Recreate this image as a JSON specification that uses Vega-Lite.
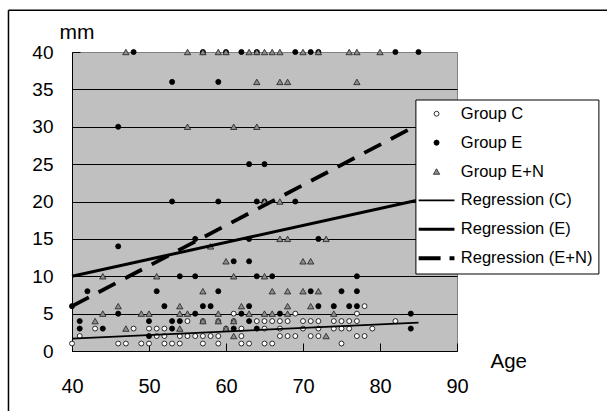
{
  "$schema": "https://vega.github.io/schema/vega-lite/v6.json",
  "width": 385,
  "height": 299,
  "autosize": {"type": "none"},
  "padding": {"left": 72, "top": 52, "right": 150, "bottom": 60},
  "background": "white",
  "config": {
    "view": {"fill": "#c0c0c0", "stroke": "#808080", "strokeWidth": 1},
    "font": "Liberation Sans",
    "legend": {
      "orient": "none", "legendX": 343.4, "legendY": 47.5, "padding": 6,
      "fillColor": "white", "strokeColor": "black", "strokeWidth": 1,
      "labelFont": "Liberation Sans", "labelFontSize": 16.5, "labelColor": "black",
      "symbolOffset": 6.9, "labelOffset": 16, "rowPadding": 11.9
    }
  },
  "datasets": {
    "pts": [
      {"age":40,"mm":1,"group":"Group C"},{"age":46,"mm":1,"group":"Group C"},{"age":47,"mm":1,"group":"Group C"},{"age":49,"mm":1,"group":"Group C"},{"age":50,"mm":1,"group":"Group C"},{"age":52,"mm":1,"group":"Group C"},{"age":53,"mm":1,"group":"Group C"},{"age":54,"mm":1,"group":"Group C"},{"age":57,"mm":1,"group":"Group C"},{"age":59,"mm":1,"group":"Group C"},{"age":62,"mm":1,"group":"Group C"},{"age":63,"mm":1,"group":"Group C"},{"age":65,"mm":1,"group":"Group C"},{"age":66,"mm":1,"group":"Group C"},{"age":75,"mm":1,"group":"Group C"},
      {"age":41,"mm":2,"group":"Group C"},{"age":51,"mm":2,"group":"Group C"},{"age":52,"mm":2,"group":"Group C"},{"age":54,"mm":2,"group":"Group C"},{"age":55,"mm":2,"group":"Group C"},{"age":56,"mm":2,"group":"Group C"},{"age":57,"mm":2,"group":"Group C"},{"age":58,"mm":2,"group":"Group C"},{"age":59,"mm":2,"group":"Group C"},{"age":62,"mm":2,"group":"Group C"},{"age":67,"mm":2,"group":"Group C"},{"age":68,"mm":2,"group":"Group C"},{"age":69,"mm":2,"group":"Group C"},{"age":71,"mm":2,"group":"Group C"},{"age":72,"mm":2,"group":"Group C"},{"age":77,"mm":2,"group":"Group C"},{"age":78,"mm":2,"group":"Group C"},
      {"age":43,"mm":3,"group":"Group C"},{"age":48,"mm":3,"group":"Group C"},{"age":50,"mm":3,"group":"Group C"},{"age":51,"mm":3,"group":"Group C"},{"age":52,"mm":3,"group":"Group C"},{"age":60,"mm":3,"group":"Group C"},{"age":62,"mm":3,"group":"Group C"},{"age":65,"mm":3,"group":"Group C"},{"age":67,"mm":3,"group":"Group C"},{"age":70,"mm":3,"group":"Group C"},{"age":72,"mm":3,"group":"Group C"},{"age":74,"mm":3,"group":"Group C"},{"age":75,"mm":3,"group":"Group C"},{"age":76,"mm":3,"group":"Group C"},{"age":79,"mm":3,"group":"Group C"},
      {"age":55,"mm":4,"group":"Group C"},{"age":57,"mm":4,"group":"Group C"},{"age":59,"mm":4,"group":"Group C"},{"age":61,"mm":4,"group":"Group C"},{"age":64,"mm":4,"group":"Group C"},{"age":65,"mm":4,"group":"Group C"},{"age":66,"mm":4,"group":"Group C"},{"age":67,"mm":4,"group":"Group C"},{"age":68,"mm":4,"group":"Group C"},{"age":70,"mm":4,"group":"Group C"},{"age":71,"mm":4,"group":"Group C"},{"age":72,"mm":4,"group":"Group C"},{"age":74,"mm":4,"group":"Group C"},{"age":75,"mm":4,"group":"Group C"},{"age":76,"mm":4,"group":"Group C"},{"age":77,"mm":4,"group":"Group C"},{"age":82,"mm":4,"group":"Group C"},
      {"age":61,"mm":5,"group":"Group C"},{"age":69,"mm":5,"group":"Group C"},{"age":77,"mm":5,"group":"Group C"},{"age":78,"mm":6,"group":"Group C"},
      {"age":48,"mm":40,"group":"Group E"},{"age":57,"mm":40,"group":"Group E"},{"age":60,"mm":40,"group":"Group E"},{"age":62,"mm":40,"group":"Group E"},{"age":64,"mm":40,"group":"Group E"},{"age":69,"mm":40,"group":"Group E"},{"age":71,"mm":40,"group":"Group E"},{"age":72,"mm":40,"group":"Group E"},{"age":82,"mm":40,"group":"Group E"},{"age":85,"mm":40,"group":"Group E"},
      {"age":53,"mm":36,"group":"Group E"},{"age":59,"mm":36,"group":"Group E"},{"age":46,"mm":30,"group":"Group E"},{"age":63,"mm":25,"group":"Group E"},{"age":65,"mm":25,"group":"Group E"},
      {"age":53,"mm":20,"group":"Group E"},{"age":59,"mm":20,"group":"Group E"},{"age":64,"mm":20,"group":"Group E"},{"age":65,"mm":20,"group":"Group E"},{"age":69,"mm":20,"group":"Group E"},
      {"age":56,"mm":15,"group":"Group E"},{"age":63,"mm":15,"group":"Group E"},{"age":72,"mm":15,"group":"Group E"},{"age":46,"mm":14,"group":"Group E"},{"age":61,"mm":12,"group":"Group E"},{"age":63,"mm":12,"group":"Group E"},
      {"age":54,"mm":10,"group":"Group E"},{"age":56,"mm":10,"group":"Group E"},{"age":64,"mm":10,"group":"Group E"},{"age":66,"mm":10,"group":"Group E"},{"age":77,"mm":10,"group":"Group E"},
      {"age":42,"mm":8,"group":"Group E"},{"age":51,"mm":8,"group":"Group E"},{"age":59,"mm":8,"group":"Group E"},{"age":71,"mm":8,"group":"Group E"},{"age":75,"mm":8,"group":"Group E"},{"age":77,"mm":8,"group":"Group E"},
      {"age":40,"mm":6,"group":"Group E"},{"age":52,"mm":6,"group":"Group E"},{"age":57,"mm":6,"group":"Group E"},{"age":58,"mm":6,"group":"Group E"},{"age":63,"mm":6,"group":"Group E"},{"age":72,"mm":6,"group":"Group E"},{"age":74,"mm":6,"group":"Group E"},{"age":76,"mm":6,"group":"Group E"},{"age":77,"mm":6,"group":"Group E"},
      {"age":46,"mm":5,"group":"Group E"},{"age":56,"mm":5,"group":"Group E"},{"age":62,"mm":5,"group":"Group E"},{"age":67,"mm":5,"group":"Group E"},{"age":84,"mm":5,"group":"Group E"},
      {"age":41,"mm":4,"group":"Group E"},{"age":50,"mm":4,"group":"Group E"},{"age":53,"mm":4,"group":"Group E"},{"age":54,"mm":4,"group":"Group E"},{"age":63,"mm":4,"group":"Group E"},
      {"age":41,"mm":3,"group":"Group E"},{"age":44,"mm":3,"group":"Group E"},{"age":53,"mm":3,"group":"Group E"},{"age":61,"mm":3,"group":"Group E"},{"age":64,"mm":3,"group":"Group E"},{"age":84,"mm":3,"group":"Group E"},{"age":50,"mm":2,"group":"Group E"},
      {"age":47,"mm":40,"group":"Group E+N"},{"age":55,"mm":40,"group":"Group E+N"},{"age":57,"mm":40,"group":"Group E+N"},{"age":59,"mm":40,"group":"Group E+N"},{"age":60,"mm":40,"group":"Group E+N"},{"age":63,"mm":40,"group":"Group E+N"},{"age":64,"mm":40,"group":"Group E+N"},{"age":65,"mm":40,"group":"Group E+N"},{"age":66,"mm":40,"group":"Group E+N"},{"age":67,"mm":40,"group":"Group E+N"},{"age":70,"mm":40,"group":"Group E+N"},{"age":72,"mm":40,"group":"Group E+N"},{"age":76,"mm":40,"group":"Group E+N"},{"age":77,"mm":40,"group":"Group E+N"},{"age":80,"mm":40,"group":"Group E+N"},
      {"age":64,"mm":36,"group":"Group E+N"},{"age":67,"mm":36,"group":"Group E+N"},{"age":68,"mm":36,"group":"Group E+N"},{"age":77,"mm":36,"group":"Group E+N"},
      {"age":55,"mm":30,"group":"Group E+N"},{"age":61,"mm":30,"group":"Group E+N"},{"age":64,"mm":30,"group":"Group E+N"},{"age":65,"mm":20,"group":"Group E+N"},{"age":67,"mm":20,"group":"Group E+N"},
      {"age":67,"mm":15,"group":"Group E+N"},{"age":68,"mm":15,"group":"Group E+N"},{"age":73,"mm":15,"group":"Group E+N"},{"age":58,"mm":14,"group":"Group E+N"},
      {"age":60,"mm":12,"group":"Group E+N"},{"age":70,"mm":12,"group":"Group E+N"},{"age":71,"mm":12,"group":"Group E+N"},
      {"age":44,"mm":10,"group":"Group E+N"},{"age":51,"mm":10,"group":"Group E+N"},{"age":61,"mm":10,"group":"Group E+N"},{"age":65,"mm":10,"group":"Group E+N"},
      {"age":57,"mm":8,"group":"Group E+N"},{"age":66,"mm":8,"group":"Group E+N"},{"age":68,"mm":8,"group":"Group E+N"},{"age":70,"mm":8,"group":"Group E+N"},{"age":72,"mm":8,"group":"Group E+N"},
      {"age":46,"mm":6,"group":"Group E+N"},{"age":54,"mm":6,"group":"Group E+N"},{"age":62,"mm":6,"group":"Group E+N"},{"age":68,"mm":6,"group":"Group E+N"},{"age":71,"mm":6,"group":"Group E+N"},
      {"age":44,"mm":5,"group":"Group E+N"},{"age":49,"mm":5,"group":"Group E+N"},{"age":50,"mm":5,"group":"Group E+N"},{"age":54,"mm":5,"group":"Group E+N"},{"age":55,"mm":5,"group":"Group E+N"},{"age":59,"mm":5,"group":"Group E+N"},{"age":63,"mm":5,"group":"Group E+N"},{"age":65,"mm":5,"group":"Group E+N"},{"age":66,"mm":5,"group":"Group E+N"},{"age":68,"mm":5,"group":"Group E+N"},{"age":74,"mm":5,"group":"Group E+N"},
      {"age":43,"mm":4,"group":"Group E+N"},{"age":57,"mm":4,"group":"Group E+N"},{"age":59,"mm":4,"group":"Group E+N"},{"age":61,"mm":4,"group":"Group E+N"},
      {"age":47,"mm":3,"group":"Group E+N"},{"age":54,"mm":3,"group":"Group E+N"},{"age":60,"mm":3,"group":"Group E+N"},{"age":61,"mm":2,"group":"Group E+N"},{"age":73,"mm":2,"group":"Group E+N"}
    ],
    "reg": [
      {"age":40,"mm":1.65,"group":"Regression (C)"},{"age":85,"mm":3.8,"group":"Regression (C)"},
      {"age":40,"mm":10,"group":"Regression (E)"},{"age":85,"mm":20.2,"group":"Regression (E)"},
      {"age":40,"mm":6,"group":"Regression (E+N)"},{"age":85,"mm":30.3,"group":"Regression (E+N)"}
    ]
  },
  "layer": [
    {
      "data": {"name": "pts"},
      "mark": {"type": "point", "filled": true, "opacity": 1},
      "encoding": {
        "x": {"field": "age", "type": "quantitative",
          "scale": {"domain": [40, 90], "nice": false, "zero": false},
          "axis": {"values": [40,50,60,70,80,90], "grid": false, "domainColor": "black", "tickColor": "black", "tickSize": -8,
            "labelPadding": 33, "labelFont": "Liberation Sans", "labelFontSize": 20, "labelColor": "black",
            "labelFlush": false, "labelOverlap": false,
            "title": "Age", "titleFont": "Liberation Sans", "titleFontSize": 20.5, "titleFontWeight": "normal", "titleColor": "black",
            "titleX": 418, "titleY": 16, "titleAlign": "left", "titleBaseline": "alphabetic"}},
        "y": {"field": "mm", "type": "quantitative",
          "scale": {"domain": [0, 40], "nice": false},
          "axis": {"values": [0,5,10,15,20,25,30,35,40], "grid": true, "gridWidth": 1,
            "gridColor": {"condition": {"test": "datum.value === 0 || datum.value === 40", "value": "transparent"}, "value": "black"},
            "domainColor": "black", "tickColor": "black", "tickSize": -8, "labelPadding": 27,
            "labelFont": "Liberation Sans", "labelFontSize": 19, "labelColor": "black", "labelFlush": false, "labelOverlap": false,
            "title": "mm", "titleFont": "Liberation Sans", "titleFontSize": 21, "titleFontWeight": "normal", "titleColor": "black",
            "titleAngle": 0, "titleX": 4.5, "titleY": -14, "titleAlign": "center", "titleBaseline": "alphabetic"}},
        "shape": {"field": "group", "type": "nominal", "legend": {"title": null},
          "scale": {"domain": ["Group C","Group E","Group E+N","Regression (C)","Regression (E)","Regression (E+N)"],
            "range": ["circle","circle","triangle-up","M-8,0H8","M-8,0H8","M-8,0H1.8M5.8,0H8"]}},
        "fill": {"field": "group", "type": "nominal", "legend": {"title": null},
          "scale": {"domain": ["Group C","Group E","Group E+N","Regression (C)","Regression (E)","Regression (E+N)"],
            "range": ["white","black","#8c8c8c","transparent","transparent","transparent"]}},
        "stroke": {"field": "group", "type": "nominal", "legend": {"title": null},
          "scale": {"domain": ["Group C","Group E","Group E+N","Regression (C)","Regression (E)","Regression (E+N)"],
            "range": ["black","black","#202020","black","black","black"]}},
        "strokeWidth": {"field": "group", "type": "nominal", "legend": {"title": null},
          "scale": {"type": "ordinal", "domain": ["Group C","Group E","Group E+N","Regression (C)","Regression (E)","Regression (E+N)"],
            "range": [0.8, 0.8, 0.8, 1.7, 3, 3.8]}},
        "size": {"field": "group", "type": "nominal", "legend": {"title": null},
          "scale": {"type": "ordinal", "domain": ["Group C","Group E","Group E+N","Regression (C)","Regression (E)","Regression (E+N)"],
            "range": [24, 26, 40, 20, 20, 20]}}
      }
    },
    {
      "data": {"name": "reg"},
      "transform": [{"filter": "datum.group === 'Regression (C)'"}],
      "mark": {"type": "line", "color": "black", "strokeWidth": 1.7, "strokeCap": "butt"},
      "encoding": {
        "x": {"field": "age", "type": "quantitative",
          "axis": {"values": [40,50,60,70,80,90], "grid": false, "domainColor": "black", "tickColor": "black", "tickSize": -8,
            "labelPadding": 33, "labelFont": "Liberation Sans", "labelFontSize": 20, "labelColor": "black",
            "labelFlush": false, "labelOverlap": false,
            "title": "Age", "titleFont": "Liberation Sans", "titleFontSize": 20.5, "titleFontWeight": "normal", "titleColor": "black",
            "titleX": 418, "titleY": 16, "titleAlign": "left", "titleBaseline": "alphabetic"}},
        "y": {"field": "mm", "type": "quantitative",
          "axis": {"values": [0,5,10,15,20,25,30,35,40], "grid": true, "gridWidth": 1,
            "gridColor": {"condition": {"test": "datum.value === 0 || datum.value === 40", "value": "transparent"}, "value": "black"},
            "domainColor": "black", "tickColor": "black", "tickSize": -8, "labelPadding": 27,
            "labelFont": "Liberation Sans", "labelFontSize": 19, "labelColor": "black", "labelFlush": false, "labelOverlap": false,
            "title": "mm", "titleFont": "Liberation Sans", "titleFontSize": 21, "titleFontWeight": "normal", "titleColor": "black",
            "titleAngle": 0, "titleX": 4.5, "titleY": -14, "titleAlign": "center", "titleBaseline": "alphabetic"}}
      }
    },
    {
      "data": {"name": "reg"},
      "transform": [{"filter": "datum.group === 'Regression (E)'"}],
      "mark": {"type": "line", "color": "black", "strokeWidth": 3, "strokeCap": "butt"},
      "encoding": {
        "x": {"field": "age", "type": "quantitative",
          "axis": {"values": [40,50,60,70,80,90], "grid": false, "domainColor": "black", "tickColor": "black", "tickSize": -8,
            "labelPadding": 33, "labelFont": "Liberation Sans", "labelFontSize": 20, "labelColor": "black",
            "labelFlush": false, "labelOverlap": false,
            "title": "Age", "titleFont": "Liberation Sans", "titleFontSize": 20.5, "titleFontWeight": "normal", "titleColor": "black",
            "titleX": 418, "titleY": 16, "titleAlign": "left", "titleBaseline": "alphabetic"}},
        "y": {"field": "mm", "type": "quantitative",
          "axis": {"values": [0,5,10,15,20,25,30,35,40], "grid": true, "gridWidth": 1,
            "gridColor": {"condition": {"test": "datum.value === 0 || datum.value === 40", "value": "transparent"}, "value": "black"},
            "domainColor": "black", "tickColor": "black", "tickSize": -8, "labelPadding": 27,
            "labelFont": "Liberation Sans", "labelFontSize": 19, "labelColor": "black", "labelFlush": false, "labelOverlap": false,
            "title": "mm", "titleFont": "Liberation Sans", "titleFontSize": 21, "titleFontWeight": "normal", "titleColor": "black",
            "titleAngle": 0, "titleX": 4.5, "titleY": -14, "titleAlign": "center", "titleBaseline": "alphabetic"}}
      }
    },
    {
      "data": {"name": "reg"},
      "transform": [{"filter": "datum.group === 'Regression (E+N)'"}],
      "mark": {"type": "line", "color": "black", "strokeWidth": 3.8, "strokeCap": "butt", "strokeDash": [19, 11]},
      "encoding": {
        "x": {"field": "age", "type": "quantitative",
          "axis": {"values": [40,50,60,70,80,90], "grid": false, "domainColor": "black", "tickColor": "black", "tickSize": -8,
            "labelPadding": 33, "labelFont": "Liberation Sans", "labelFontSize": 20, "labelColor": "black",
            "labelFlush": false, "labelOverlap": false,
            "title": "Age", "titleFont": "Liberation Sans", "titleFontSize": 20.5, "titleFontWeight": "normal", "titleColor": "black",
            "titleX": 418, "titleY": 16, "titleAlign": "left", "titleBaseline": "alphabetic"}},
        "y": {"field": "mm", "type": "quantitative",
          "axis": {"values": [0,5,10,15,20,25,30,35,40], "grid": true, "gridWidth": 1,
            "gridColor": {"condition": {"test": "datum.value === 0 || datum.value === 40", "value": "transparent"}, "value": "black"},
            "domainColor": "black", "tickColor": "black", "tickSize": -8, "labelPadding": 27,
            "labelFont": "Liberation Sans", "labelFontSize": 19, "labelColor": "black", "labelFlush": false, "labelOverlap": false,
            "title": "mm", "titleFont": "Liberation Sans", "titleFontSize": 21, "titleFontWeight": "normal", "titleColor": "black",
            "titleAngle": 0, "titleX": 4.5, "titleY": -14, "titleAlign": "center", "titleBaseline": "alphabetic"}}
      }
    },
    {
      "data": {"values": [{"edge": "frame"}]},
      "mark": {"type": "rule", "color": "black", "strokeWidth": 1.5, "clip": false},
      "encoding": {
        "x": {"datum": 31.75, "type": "quantitative",
          "axis": {"values": [40,50,60,70,80,90], "grid": false, "domainColor": "black", "tickColor": "black", "tickSize": -8,
            "labelPadding": 33, "labelFont": "Liberation Sans", "labelFontSize": 20, "labelColor": "black",
            "labelFlush": false, "labelOverlap": false,
            "title": "Age", "titleFont": "Liberation Sans", "titleFontSize": 20.5, "titleFontWeight": "normal", "titleColor": "black",
            "titleX": 418, "titleY": 16, "titleAlign": "left", "titleBaseline": "alphabetic"}},
        "x2": {"datum": 110},
        "y": {"datum": 45.6, "type": "quantitative",
          "axis": {"values": [0,5,10,15,20,25,30,35,40], "grid": true, "gridWidth": 1,
            "gridColor": {"condition": {"test": "datum.value === 0 || datum.value === 40", "value": "transparent"}, "value": "black"},
            "domainColor": "black", "tickColor": "black", "tickSize": -8, "labelPadding": 27,
            "labelFont": "Liberation Sans", "labelFontSize": 19, "labelColor": "black", "labelFlush": false, "labelOverlap": false,
            "title": "mm", "titleFont": "Liberation Sans", "titleFontSize": 21, "titleFontWeight": "normal", "titleColor": "black",
            "titleAngle": 0, "titleX": 4.5, "titleY": -14, "titleAlign": "center", "titleBaseline": "alphabetic"}}
      }
    },
    {
      "data": {"values": [{"edge": "frame"}]},
      "mark": {"type": "rule", "color": "black", "strokeWidth": 1.5, "clip": false},
      "encoding": {
        "x": {"datum": 31.75, "type": "quantitative",
          "axis": {"values": [40,50,60,70,80,90], "grid": false, "domainColor": "black", "tickColor": "black", "tickSize": -8,
            "labelPadding": 33, "labelFont": "Liberation Sans", "labelFontSize": 20, "labelColor": "black",
            "labelFlush": false, "labelOverlap": false,
            "title": "Age", "titleFont": "Liberation Sans", "titleFontSize": 20.5, "titleFontWeight": "normal", "titleColor": "black",
            "titleX": 418, "titleY": 16, "titleAlign": "left", "titleBaseline": "alphabetic"}},
        "y": {"datum": 45.6, "type": "quantitative",
          "axis": {"values": [0,5,10,15,20,25,30,35,40], "grid": true, "gridWidth": 1,
            "gridColor": {"condition": {"test": "datum.value === 0 || datum.value === 40", "value": "transparent"}, "value": "black"},
            "domainColor": "black", "tickColor": "black", "tickSize": -8, "labelPadding": 27,
            "labelFont": "Liberation Sans", "labelFontSize": 19, "labelColor": "black", "labelFlush": false, "labelOverlap": false,
            "title": "mm", "titleFont": "Liberation Sans", "titleFontSize": 21, "titleFontWeight": "normal", "titleColor": "black",
            "titleAngle": 0, "titleX": 4.5, "titleY": -14, "titleAlign": "center", "titleBaseline": "alphabetic"}},
        "y2": {"datum": -10}
      }
    }
  ]
}
